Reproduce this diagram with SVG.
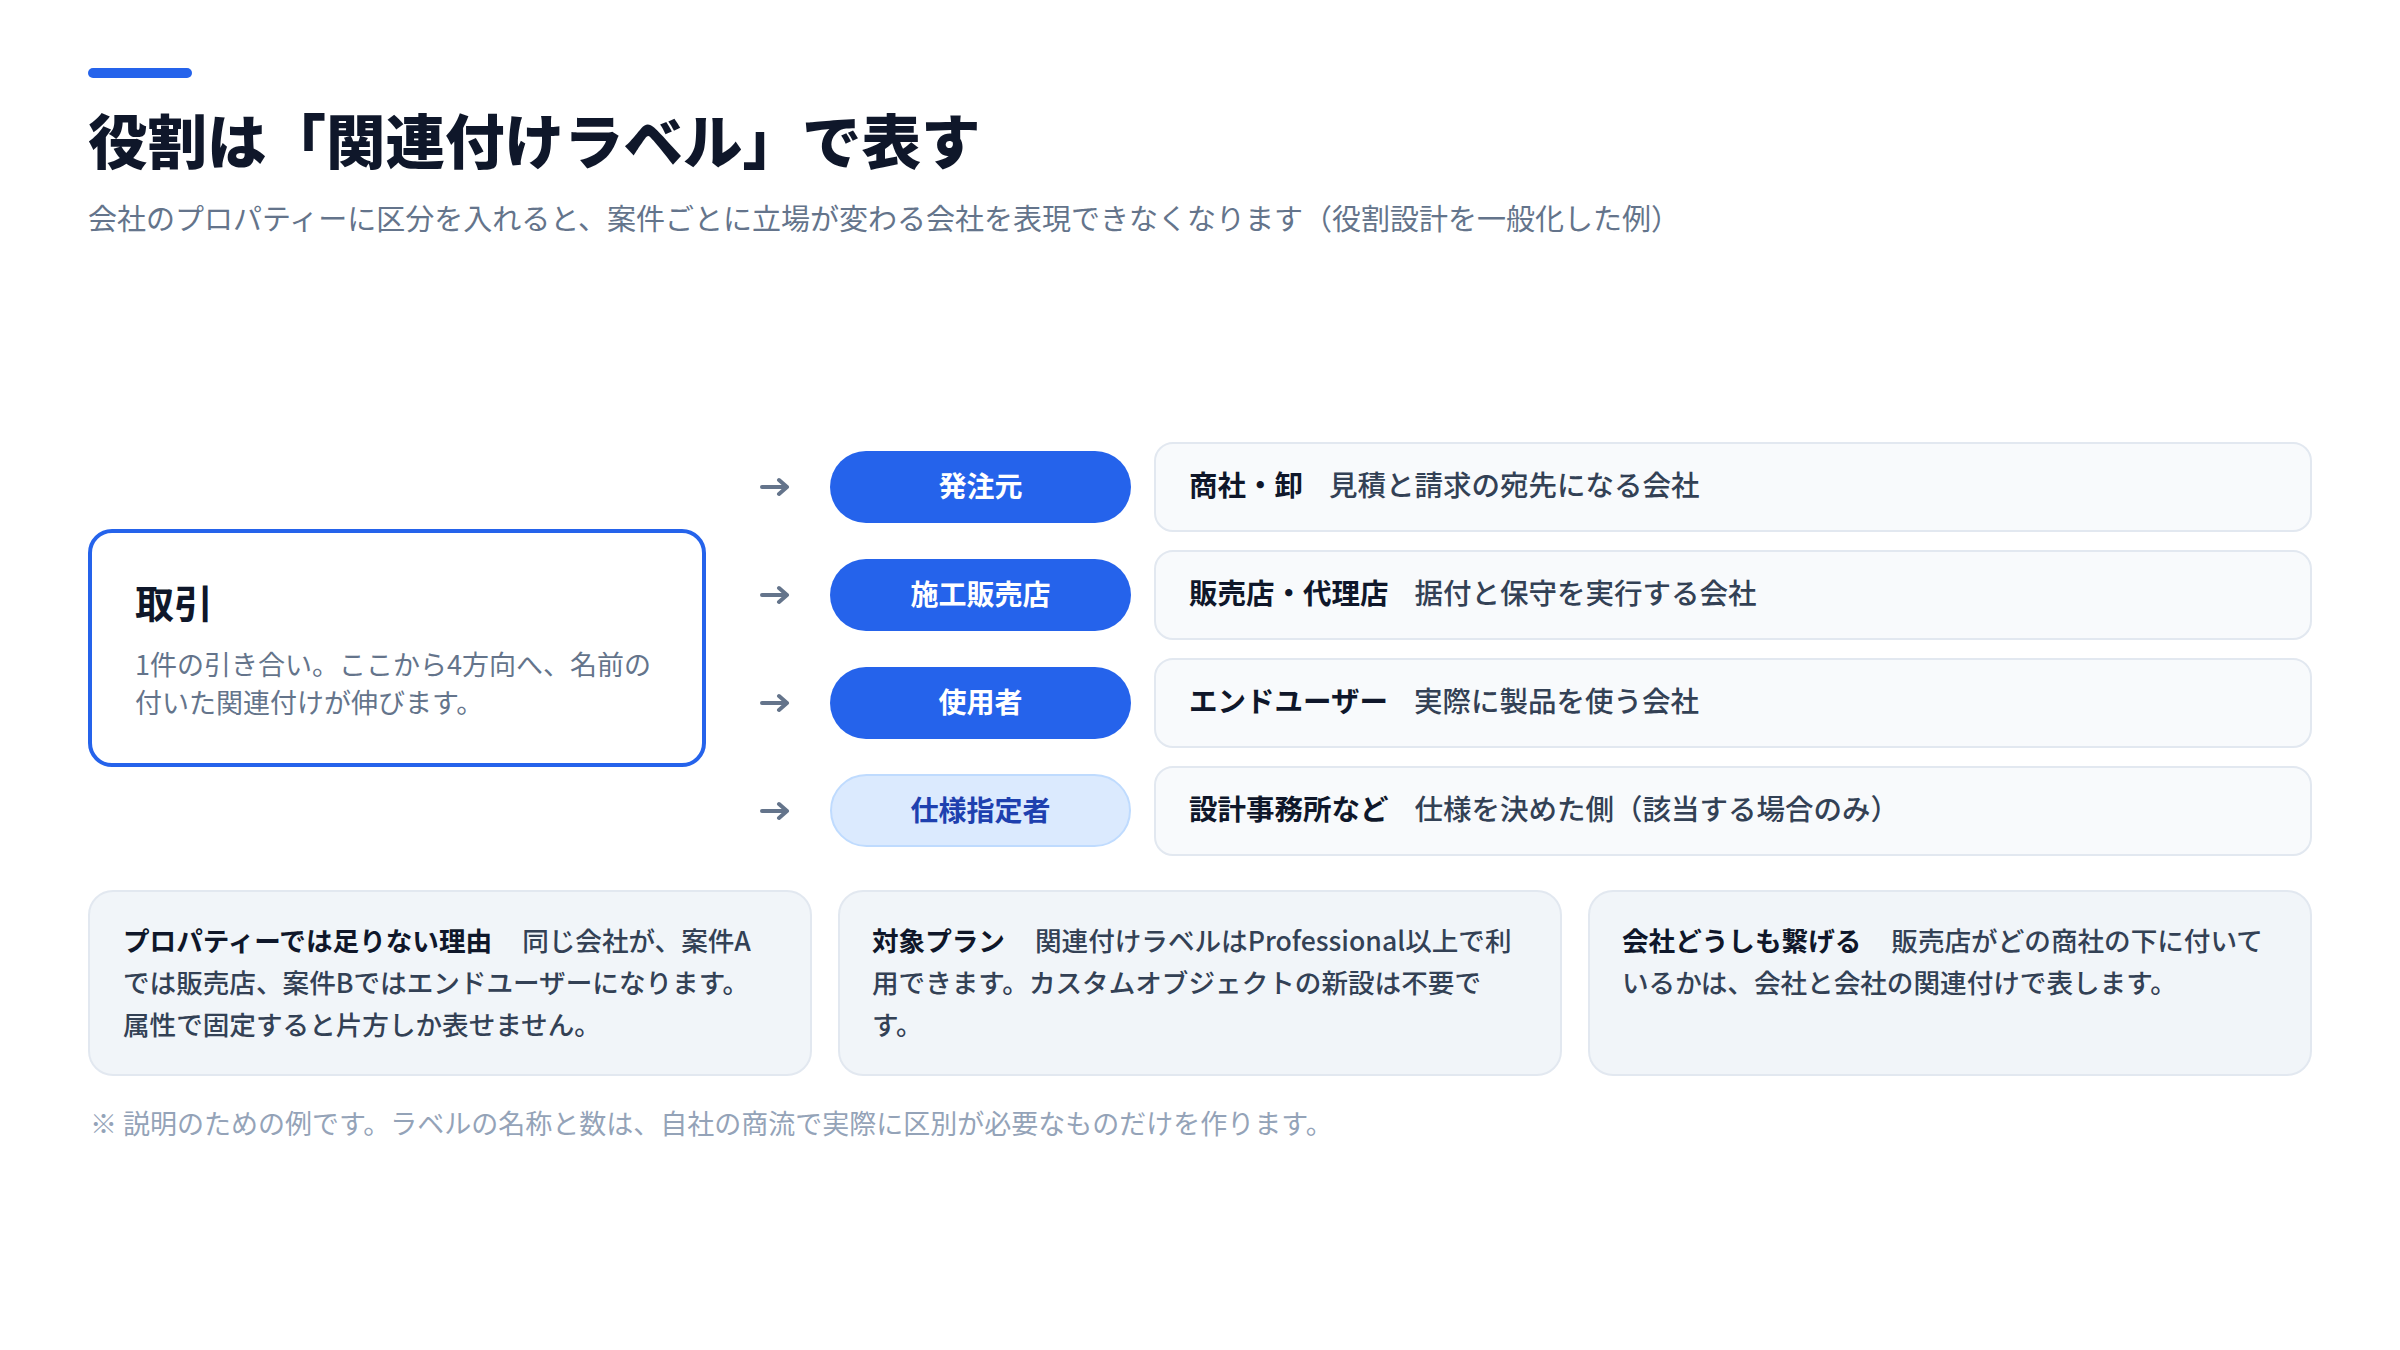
<svg xmlns="http://www.w3.org/2000/svg" width="2400" height="1350" viewBox="0 0 2400 1350">
<style>
  text { font-family: "Noto Sans CJK JP", "Noto Sans", "Liberation Sans", sans-serif; }
  .title { font-size: 59.5px; font-weight: 900; fill: #0f172a; }
  .sub { font-size: 29px; fill: #64748b; }
  .deal-box { fill: #ffffff; stroke: #2563eb; stroke-width: 4; }
  .deal-title { font-size: 39px; font-weight: 700; fill: #0f172a; }
  .deal-desc { font-size: 27px; fill: #64748b; }
  .pill { fill: #2563eb; }
  .pill-light { fill: #dbeafe; stroke: #bfdbfe; stroke-width: 2; }
  .pill-text { font-size: 28px; font-weight: 700; fill: #ffffff; text-anchor: middle; }
  .pill-text-light { font-size: 28px; font-weight: 700; fill: #1e40af; text-anchor: middle; }
  .row-box { fill: #f8fafc; stroke: #e2e8f0; stroke-width: 2; }
  .row-text { font-size: 28.5px; font-weight: 500; fill: #334155; }
  .lbl { font-weight: 700; fill: #0f172a; }
  .card { fill: #f1f5f9; stroke: #e2e8f0; stroke-width: 2; }
  .card-text { font-size: 26.6px; font-weight: 500; fill: #334155; }
  .note { font-size: 27px; fill: #94a3b8; }
  .arrow { fill: none; stroke: #64748b; stroke-width: 4; stroke-linecap: round; stroke-linejoin: round; }
</style>

<g id="header">
  <rect x="88" y="68" width="104" height="10" rx="5" fill="#2563eb"/>
  <text class="title" x="88" y="164">役割は「関連付けラベル」で表す</text>
  <text class="sub" x="88" y="230">会社のプロパティーに区分を入れると、案件ごとに立場が変わる会社を表現できなくなります（役割設計を一般化した例）</text>
</g>

<g id="node-deal">
  <rect class="deal-box" x="90" y="531" width="614" height="234" rx="22"/>
  <text class="deal-title" x="135" y="618">取引</text>
  <text class="deal-desc" x="135" y="675">1件の引き合い。ここから4方向へ、名前の</text>
  <text class="deal-desc" x="135" y="713">付いた関連付けが伸びます。</text>
</g>

<g id="connectors">
  <path class="arrow" d="M762 487 H787 M779 480 L787 487 L779 494"/>
  <path class="arrow" d="M762 595 H787 M779 588 L787 595 L779 602"/>
  <path class="arrow" d="M762 703 H787 M779 696 L787 703 L779 710"/>
  <path class="arrow" d="M762 811 H787 M779 804 L787 811 L779 818"/>
</g>

<g id="role-orderer">
  <rect class="pill" x="830" y="451" width="301" height="72" rx="36"/>
  <text class="pill-text" x="980.5" y="497">発注元</text>
</g>
<g id="role-installer">
  <rect class="pill" x="830" y="559" width="301" height="72" rx="36"/>
  <text class="pill-text" x="980.5" y="605">施工販売店</text>
</g>
<g id="role-user">
  <rect class="pill" x="830" y="667" width="301" height="72" rx="36"/>
  <text class="pill-text" x="980.5" y="713">使用者</text>
</g>
<g id="role-specifier">
  <rect class="pill-light" x="831" y="775" width="299" height="71" rx="35.5"/>
  <text class="pill-text-light" x="980.5" y="821">仕様指定者</text>
</g>

<g id="desc-orderer">
  <rect class="row-box" x="1155" y="443" width="1156" height="88" rx="18"/>
  <text class="row-text" x="1189" y="496"><tspan class="lbl">商社・卸</tspan><tspan dx="26">見積と請求の宛先になる会社</tspan></text>
</g>
<g id="desc-installer">
  <rect class="row-box" x="1155" y="551" width="1156" height="88" rx="18"/>
  <text class="row-text" x="1189" y="604"><tspan class="lbl">販売店・代理店</tspan><tspan dx="26">据付と保守を実行する会社</tspan></text>
</g>
<g id="desc-user">
  <rect class="row-box" x="1155" y="659" width="1156" height="88" rx="18"/>
  <text class="row-text" x="1189" y="712"><tspan class="lbl">エンドユーザー</tspan><tspan dx="26">実際に製品を使う会社</tspan></text>
</g>
<g id="desc-specifier">
  <rect class="row-box" x="1155" y="767" width="1156" height="88" rx="18"/>
  <text class="row-text" x="1189" y="820"><tspan class="lbl">設計事務所など</tspan><tspan dx="26">仕様を決めた側（該当する場合のみ）</tspan></text>
</g>

<g id="card-reason">
  <rect class="card" x="89" y="891" width="722" height="184" rx="24"/>
  <text class="card-text" x="123" y="951"><tspan class="lbl">プロパティーでは足りない理由</tspan><tspan dx="30">同じ会社が、案件A</tspan></text>
  <text class="card-text" x="123" y="993">では販売店、案件Bではエンドユーザーになります。</text>
  <text class="card-text" x="123" y="1035">属性で固定すると片方しか表せません。</text>
</g>
<g id="card-plan">
  <rect class="card" x="839" y="891" width="722" height="184" rx="24"/>
  <text class="card-text" x="872" y="951"><tspan class="lbl">対象プラン</tspan><tspan dx="30">関連付けラベルはProfessional以上で利</tspan></text>
  <text class="card-text" x="872" y="993">用できます。カスタムオブジェクトの新設は不要で</text>
  <text class="card-text" x="872" y="1035">す。</text>
</g>
<g id="card-company">
  <rect class="card" x="1589" y="891" width="722" height="184" rx="24"/>
  <text class="card-text" x="1622" y="951"><tspan class="lbl">会社どうしも繋げる</tspan><tspan dx="30">販売店がどの商社の下に付いて</tspan></text>
  <text class="card-text" x="1622" y="993">いるかは、会社と会社の関連付けで表します。</text>
</g>

<g id="footnote">
  <text class="note" x="90" y="1134">※ 説明のための例です。ラベルの名称と数は、自社の商流で実際に区別が必要なものだけを作ります。</text>
</g>
</svg>
